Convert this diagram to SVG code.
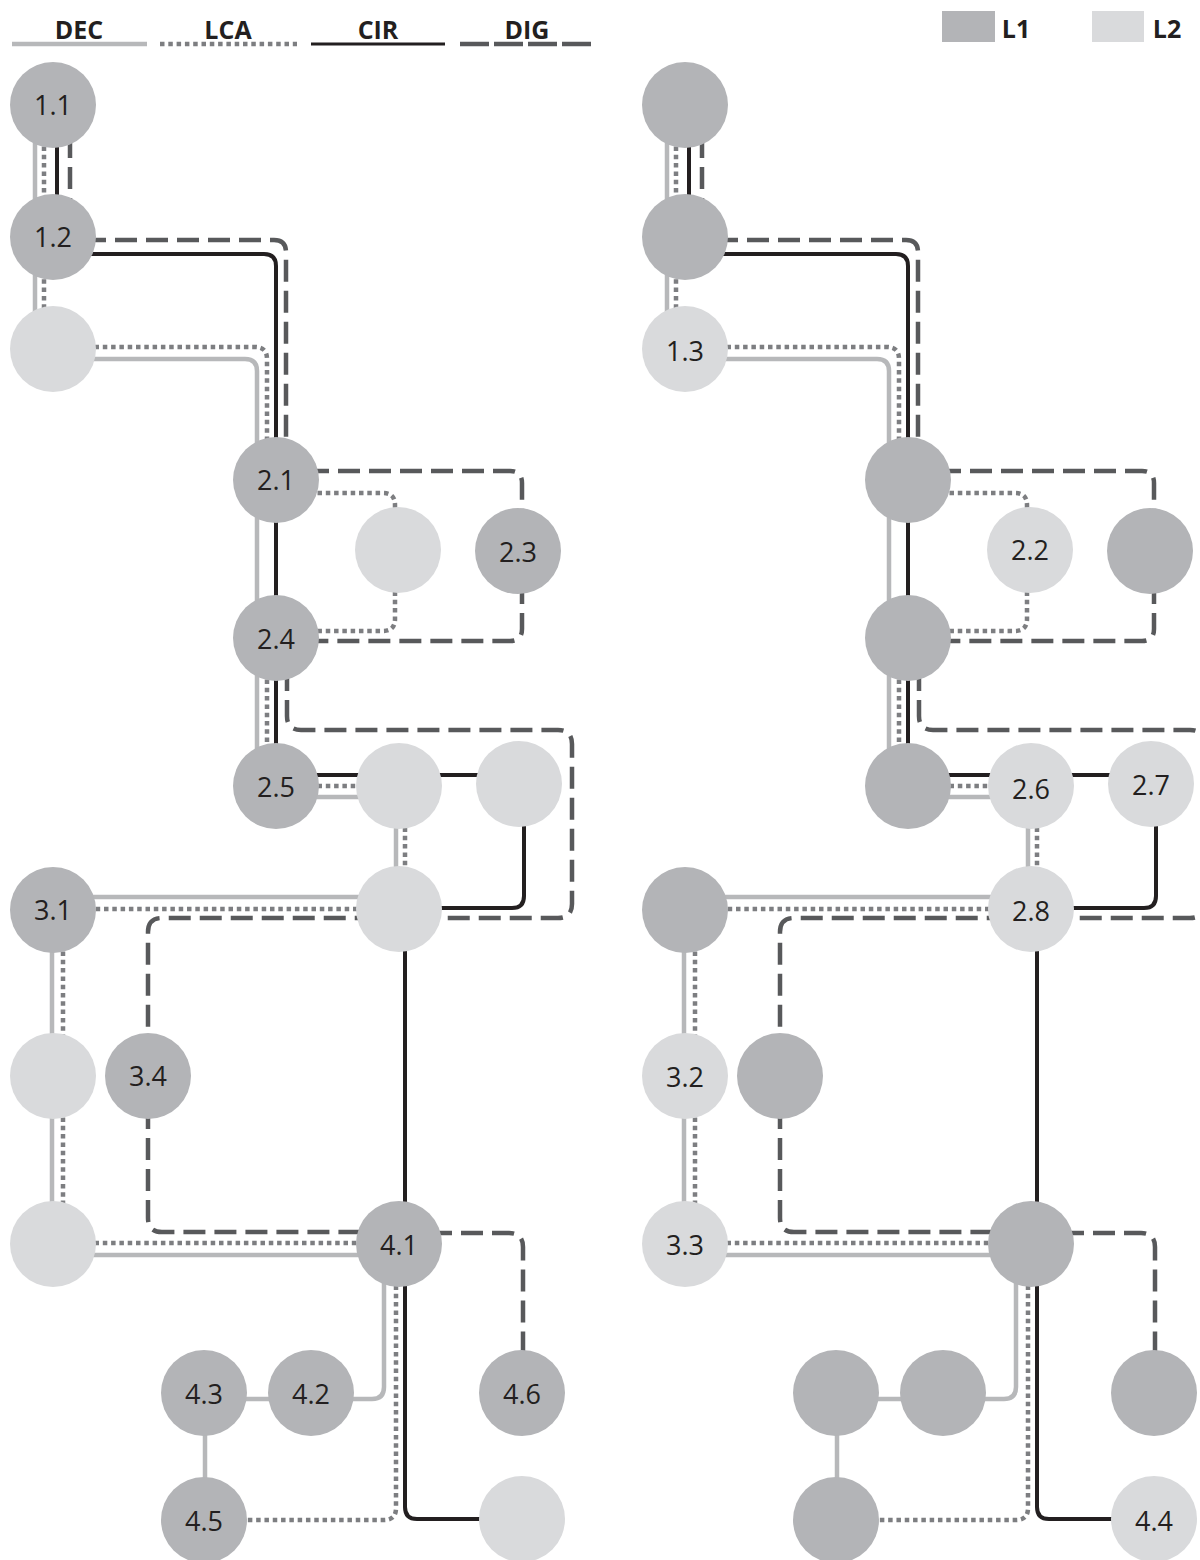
<svg xmlns="http://www.w3.org/2000/svg" width="1200" height="1560" viewBox="0 0 1200 1560">
<style>
.dec{fill:none;stroke:#b7b8ba;stroke-width:4.5}
.lca{fill:none;stroke:#7d7e81;stroke-width:4.5;stroke-dasharray:4.5 3.8}
.cir{fill:none;stroke:#231f20;stroke-width:4}
.dig{fill:none;stroke:#58595b;stroke-width:4.5;stroke-dasharray:22 9}
.l1{fill:#b3b4b7}
.l2{fill:#d9dadc}
.lbl{font-family:"Open Sans","Liberation Sans",sans-serif;font-size:27px;fill:#231f20;text-anchor:middle}
.leg{font-family:"Open Sans","Liberation Sans",sans-serif;font-size:25px;font-weight:bold;fill:#231f20;text-anchor:middle}
</style>
<rect width="1200" height="1560" fill="#ffffff"/>
<g id="legend">
<path class="dec" d="M12 44H147"/>
<text class="leg" x="79" y="39">DEC</text>
<path class="lca" d="M160 44H297"/>
<text class="leg" x="228" y="39">LCA</text>
<path class="cir" d="M311 44H445" style="stroke-width:3"/>
<text class="leg" x="378" y="39">CIR</text>
<path class="dig" d="M460 44H594" style="stroke-dasharray:29 5"/>
<text class="leg" x="527" y="39">DIG</text>
<rect class="l1" x="942" y="11" width="53" height="31"/>
<text class="leg" x="1016" y="38">L1</text>
<rect class="l2" x="1092" y="11" width="52" height="31"/>
<text class="leg" x="1167" y="38">L2</text>
</g>
<g id="connectors">
<g id="conn-left">
<path class="dec" d="M35 105V349"/>
<path class="dec" d="M53 359H245Q257 359 257 371V786"/>
<path class="dec" d="M276 797H399"/>
<path class="dec" d="M396 786V909"/>
<path class="dec" d="M399 897H53"/>
<path class="dec" d="M52 910V1244"/>
<path class="dec" d="M53 1255H399"/>
<path class="dec" d="M384 1244V1387Q384 1399 372 1399H204"/>
<path class="dec" d="M205 1393V1520"/>
<path class="lca" d="M44 105V349"/>
<path class="lca" d="M53 347H255Q267 347 267 359V480"/>
<path class="lca" d="M276 493H383Q395 493 395 505V550"/>
<path class="lca" d="M395 550V619Q395 631 383 631H276"/>
<path class="lca" d="M267 638V786"/>
<path class="lca" d="M276 786H399"/>
<path class="lca" d="M405 786V909"/>
<path class="lca" d="M399 909H53"/>
<path class="lca" d="M63 910V1244"/>
<path class="lca" d="M53 1243H399"/>
<path class="lca" d="M396 1244V1508Q396 1520 384 1520H204"/>
<path class="cir" d="M57 105V237"/>
<path class="cir" d="M53 254H264Q276 254 276 266V786"/>
<path class="cir" d="M276 775H519"/>
<path class="cir" d="M524 784V896Q524 908 512 908H399"/>
<path class="cir" d="M405 909V1507Q405 1519 417 1519H522"/>
<path class="dig" d="M70 105V237"/>
<path class="dig" d="M53 240H274Q286 240 286 252V480"/>
<path class="dig" d="M276 471H510Q522 471 522 483V551"/>
<path class="dig" d="M522 551V629Q522 641 510 641H276"/>
<path class="dig" d="M287 638V716Q287 730 301 730H558Q572 730 572 744V904Q572 918 558 918H162Q148 918 148 932V1076"/>
<path class="dig" d="M148 1076V1218Q148 1232 162 1232H399"/>
<path class="dig" d="M399 1233H509Q523 1233 523 1247V1393"/>
</g>
<g id="conn-right" transform="translate(632 0)">
<path class="dec" d="M35 105V349"/>
<path class="dec" d="M53 359H245Q257 359 257 371V786"/>
<path class="dec" d="M276 797H399"/>
<path class="dec" d="M396 786V909"/>
<path class="dec" d="M399 897H53"/>
<path class="dec" d="M52 910V1244"/>
<path class="dec" d="M53 1255H399"/>
<path class="dec" d="M384 1244V1387Q384 1399 372 1399H204"/>
<path class="dec" d="M205 1393V1520"/>
<path class="lca" d="M44 105V349"/>
<path class="lca" d="M53 347H255Q267 347 267 359V480"/>
<path class="lca" d="M276 493H383Q395 493 395 505V550"/>
<path class="lca" d="M395 550V619Q395 631 383 631H276"/>
<path class="lca" d="M267 638V786"/>
<path class="lca" d="M276 786H399"/>
<path class="lca" d="M405 786V909"/>
<path class="lca" d="M399 909H53"/>
<path class="lca" d="M63 910V1244"/>
<path class="lca" d="M53 1243H399"/>
<path class="lca" d="M396 1244V1508Q396 1520 384 1520H204"/>
<path class="cir" d="M57 105V237"/>
<path class="cir" d="M53 254H264Q276 254 276 266V786"/>
<path class="cir" d="M276 775H519"/>
<path class="cir" d="M524 784V896Q524 908 512 908H399"/>
<path class="cir" d="M405 909V1507Q405 1519 417 1519H522"/>
<path class="dig" d="M70 105V237"/>
<path class="dig" d="M53 240H274Q286 240 286 252V480"/>
<path class="dig" d="M276 471H510Q522 471 522 483V551"/>
<path class="dig" d="M522 551V629Q522 641 510 641H276"/>
<path class="dig" d="M287 638V716Q287 730 301 730H558Q572 730 572 744V904Q572 918 558 918H162Q148 918 148 932V1076"/>
<path class="dig" d="M148 1076V1218Q148 1232 162 1232H399"/>
<path class="dig" d="M399 1233H509Q523 1233 523 1247V1393"/>
</g>
</g>
<g id="nodes-left">
<g id="L-1.1"><circle class="l1" cx="53" cy="105" r="43"/><text class="lbl" x="53" y="115">1.1</text></g>
<g id="L-1.2"><circle class="l1" cx="53" cy="237" r="43"/><text class="lbl" x="53" y="247">1.2</text></g>
<g id="L-1.3"><circle class="l2" cx="53" cy="349" r="43"/></g>
<g id="L-2.1"><circle class="l1" cx="276" cy="480" r="43"/><text class="lbl" x="276" y="490">2.1</text></g>
<g id="L-2.2"><circle class="l2" cx="398" cy="550" r="43"/></g>
<g id="L-2.3"><circle class="l1" cx="518" cy="551" r="43"/><text class="lbl" x="518" y="562">2.3</text></g>
<g id="L-2.4"><circle class="l1" cx="276" cy="638" r="43"/><text class="lbl" x="276" y="649">2.4</text></g>
<g id="L-2.5"><circle class="l1" cx="276" cy="786" r="43"/><text class="lbl" x="276" y="797">2.5</text></g>
<g id="L-2.6"><circle class="l2" cx="399" cy="786" r="43"/></g>
<g id="L-2.7"><circle class="l2" cx="519" cy="784" r="43"/></g>
<g id="L-2.8"><circle class="l2" cx="399" cy="909" r="43"/></g>
<g id="L-3.1"><circle class="l1" cx="53" cy="910" r="43"/><text class="lbl" x="53" y="920">3.1</text></g>
<g id="L-3.2"><circle class="l2" cx="53" cy="1076" r="43"/></g>
<g id="L-3.4"><circle class="l1" cx="148" cy="1076" r="43"/><text class="lbl" x="148" y="1086">3.4</text></g>
<g id="L-3.3"><circle class="l2" cx="53" cy="1244" r="43"/></g>
<g id="L-4.1"><circle class="l1" cx="399" cy="1244" r="43"/><text class="lbl" x="399" y="1255">4.1</text></g>
<g id="L-4.2"><circle class="l1" cx="311" cy="1393" r="43"/><text class="lbl" x="311" y="1404">4.2</text></g>
<g id="L-4.3"><circle class="l1" cx="204" cy="1393" r="43"/><text class="lbl" x="204" y="1404">4.3</text></g>
<g id="L-4.6"><circle class="l1" cx="522" cy="1393" r="43"/><text class="lbl" x="522" y="1404">4.6</text></g>
<g id="L-4.5"><circle class="l1" cx="204" cy="1520" r="43"/><text class="lbl" x="204" y="1531">4.5</text></g>
<g id="L-4.4"><circle class="l2" cx="522" cy="1519" r="43"/></g>
</g>
<g id="nodes-right" transform="translate(632 0)">
<g id="R-1.1"><circle class="l1" cx="53" cy="105" r="43"/></g>
<g id="R-1.2"><circle class="l1" cx="53" cy="237" r="43"/></g>
<g id="R-1.3"><circle class="l2" cx="53" cy="349" r="43"/><text class="lbl" x="53" y="361">1.3</text></g>
<g id="R-2.1"><circle class="l1" cx="276" cy="480" r="43"/></g>
<g id="R-2.2"><circle class="l2" cx="398" cy="550" r="43"/><text class="lbl" x="398" y="560">2.2</text></g>
<g id="R-2.3"><circle class="l1" cx="518" cy="551" r="43"/></g>
<g id="R-2.4"><circle class="l1" cx="276" cy="638" r="43"/></g>
<g id="R-2.5"><circle class="l1" cx="276" cy="786" r="43"/></g>
<g id="R-2.6"><circle class="l2" cx="399" cy="786" r="43"/><text class="lbl" x="399" y="799">2.6</text></g>
<g id="R-2.7"><circle class="l2" cx="519" cy="784" r="43"/><text class="lbl" x="519" y="795">2.7</text></g>
<g id="R-2.8"><circle class="l2" cx="399" cy="909" r="43"/><text class="lbl" x="399" y="921">2.8</text></g>
<g id="R-3.1"><circle class="l1" cx="53" cy="910" r="43"/></g>
<g id="R-3.2"><circle class="l2" cx="53" cy="1076" r="43"/><text class="lbl" x="53" y="1087">3.2</text></g>
<g id="R-3.4"><circle class="l1" cx="148" cy="1076" r="43"/></g>
<g id="R-3.3"><circle class="l2" cx="53" cy="1244" r="43"/><text class="lbl" x="53" y="1255">3.3</text></g>
<g id="R-4.1"><circle class="l1" cx="399" cy="1244" r="43"/></g>
<g id="R-4.2"><circle class="l1" cx="311" cy="1393" r="43"/></g>
<g id="R-4.3"><circle class="l1" cx="204" cy="1393" r="43"/></g>
<g id="R-4.6"><circle class="l1" cx="522" cy="1393" r="43"/></g>
<g id="R-4.5"><circle class="l1" cx="204" cy="1520" r="43"/></g>
<g id="R-4.4"><circle class="l2" cx="522" cy="1519" r="43"/><text class="lbl" x="522" y="1531">4.4</text></g>
</g>
</svg>
